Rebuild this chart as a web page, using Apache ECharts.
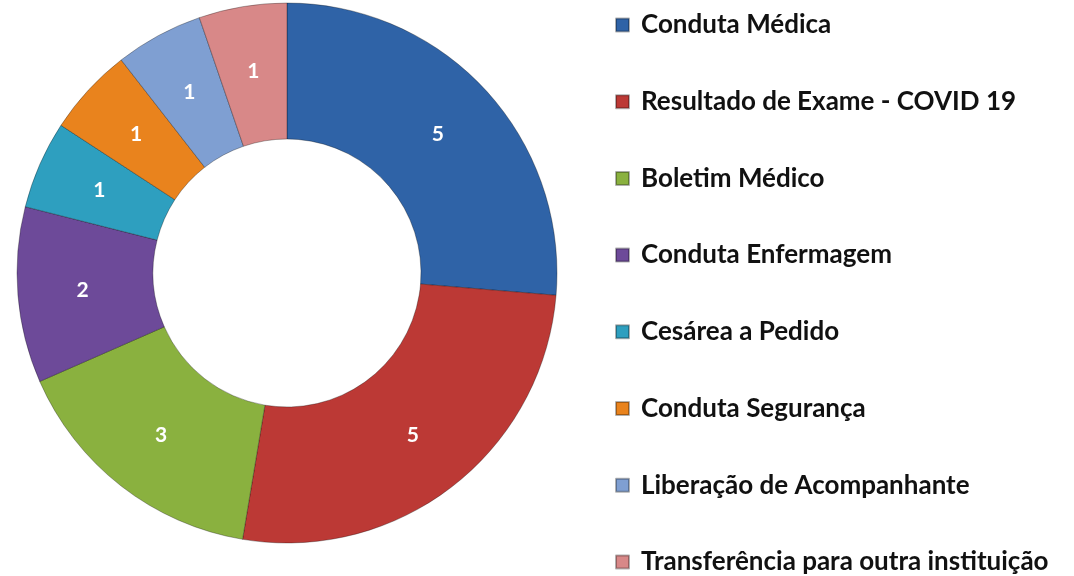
<!DOCTYPE html>
<html>
<head>
<meta charset="utf-8">
<script src="https://cdn.jsdelivr.net/npm/echarts@6/dist/echarts.min.js"></script>
<style>html,body{margin:0;padding:0;background:#fff}#c{width:1074px;height:576px}</style>
</head>
<body>
<div id="c"></div>
<script>
const categories = ["Conduta Médica", "Resultado de Exame - COVID 19", "Boletim Médico", "Conduta Enfermagem", "Cesárea a Pedido", "Conduta Segurança", "Liberação de Acompanhante", "Transferência para outra instituição"];
const values = [5, 5, 3, 2, 1, 1, 1, 1];
const colors = ["#2F63A7", "#BC3935", "#8AB13F", "#6D4A99", "#2E9FBF", "#E9831D", "#7F9FD2", "#D88888"];

const chart = echarts.init(document.getElementById('c'), null, {renderer: 'canvas'});
chart.setOption({
  backgroundColor: '#ffffff',
  animation: false,
  color: colors,
  legend: {
    orient: 'vertical',
    left: 615,
    top: 12,
    height: 570,
    padding: 0,
    itemWidth: 13,
    itemHeight: 13,
    itemGap: 50.7,
    icon: 'rect',
    textStyle: {fontFamily: 'Lato', fontWeight: 'bold', fontSize: 26, color: '#111', lineHeight: 26, padding: [0, 0, 0, 7]},
    data: categories
  },
  series: [{
    type: 'pie',
    center: [287, 273],
    radius: [134, 270],
    startAngle: 90,
    clockwise: true,
    avoidLabelOverlap: false,
    label: {show: true, position: 'inside', formatter: '{c}', color: '#fff', fontFamily: 'Lato', fontWeight: 'bold', fontSize: 21},
    labelLine: {show: false},
    itemStyle: {borderColor: 'rgba(0,0,0,0.3)', borderWidth: 1},
    emphasis: {disabled: true},
    data: categories.map((n, i) => ({name: n, value: values[i]}))
  }]
});
</script>
</body>
</html>
